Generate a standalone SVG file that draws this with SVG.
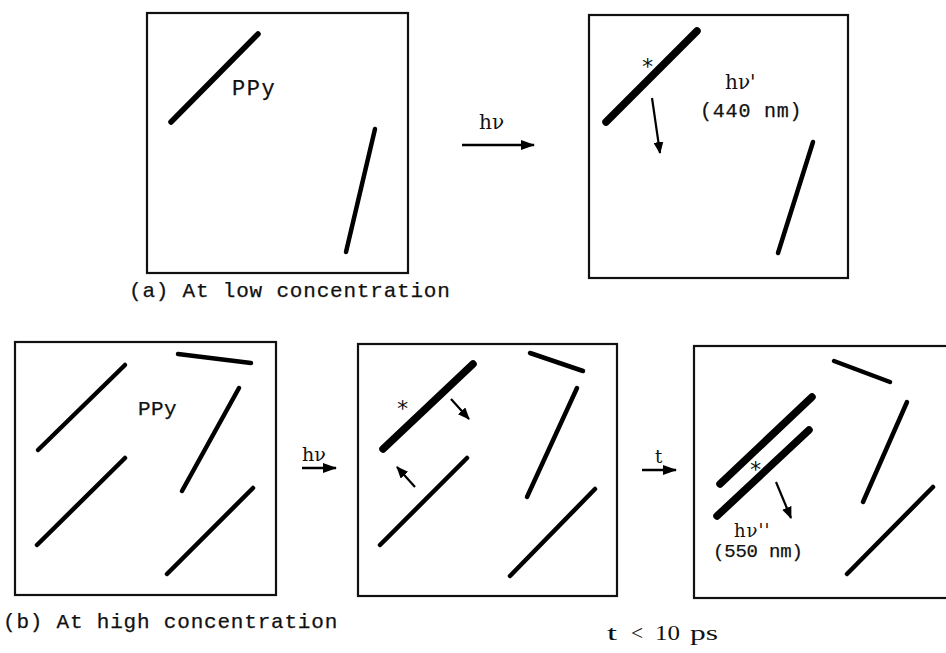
<svg xmlns="http://www.w3.org/2000/svg" width="946" height="653" viewBox="0 0 946 653">
<style>
.box{fill:none;stroke:#111;stroke-width:2.2}
.ch{stroke:#000;stroke-width:4.5;stroke-linecap:round;fill:none}
.ex{stroke:#000;stroke-width:7.5;stroke-linecap:round;fill:none}
.arr{stroke:#000;stroke-width:2.6;fill:none}
.sarr{stroke:#000;stroke-width:2.2;fill:none}
.mono{font-family:"Liberation Mono","DejaVu Sans Mono",monospace;fill:#111;stroke:#111;stroke-width:0.25}
.ast{font-family:"DejaVu Sans Mono","Liberation Mono",monospace;fill:#111;font-size:22px}
.ser{font-family:"DejaVu Serif","Liberation Serif",serif;fill:#111}
.cent{font-family:"Liberation Serif","DejaVu Serif",serif;fill:#111}
</style>
<defs>
<marker id="ah" markerUnits="userSpaceOnUse" markerWidth="14" markerHeight="10" refX="13" refY="5" orient="auto">
<path d="M0,0 L14,5 L0,10 Z" fill="#000"/>
</marker>
<marker id="sh" markerUnits="userSpaceOnUse" markerWidth="12" markerHeight="10" refX="11" refY="5" orient="auto">
<path d="M0,0 L12,5 L0,10 Z" fill="#000"/>
</marker>
</defs>
<rect width="946" height="653" fill="#fff"/>

<g id="panel-a-low">
<rect class="box" x="147" y="13" width="261" height="260"/>
<line class="ch" x1="171" y1="122" x2="258" y2="34" style="stroke-width:5.5"/>
<line class="ch" x1="375" y1="129" x2="346" y2="252"/>
<text class="mono" x="232" y="95" font-size="22" letter-spacing="1.5">PPy</text>
<text class="mono" x="129" y="297" font-size="21" letter-spacing="0.8">(a) At low concentration</text>
</g>

<g id="panel-a-excited">
<rect class="box" x="589" y="15" width="259" height="263"/>
<line class="ex" x1="606" y1="122" x2="697" y2="31"/>
<line class="ch" x1="813" y1="142" x2="778" y2="253"/>
<text class="ast" x="641" y="74">*</text>
<text class="ser" x="725" y="89" font-size="20">hν'</text>
<text class="mono" x="700" y="117" font-size="20" letter-spacing="0.8">(440 nm)</text>
</g>

<g id="panel-b-high">
<rect class="box" x="15" y="342" width="261" height="253"/>
<line class="ch" x1="38" y1="450" x2="125" y2="365"/>
<line class="ch" x1="37" y1="545" x2="125" y2="458"/>
<line class="ch" x1="182" y1="491" x2="239" y2="388"/>
<line class="ch" x1="167" y1="574" x2="253" y2="488"/>
<line class="ch" x1="178" y1="354" x2="251" y2="363"/>
<text class="mono" x="138" y="415" font-size="21" letter-spacing="0.4">PPy</text>
<text class="mono" x="3" y="628" font-size="21" letter-spacing="0.8">(b) At high concentration</text>
</g>

<g id="panel-b-excited">
<rect class="box" x="358" y="344" width="259" height="252"/>
<line class="ex" x1="383" y1="449" x2="473" y2="364"/>
<line class="ch" x1="380" y1="545" x2="467" y2="458"/>
<line class="ch" x1="527" y1="497" x2="577" y2="388"/>
<line class="ch" x1="510" y1="576" x2="595" y2="489"/>
<line class="ch" x1="530" y1="353" x2="583" y2="371"/>
<text class="ast" x="396" y="416">*</text>
</g>

<g id="panel-b-excimer">
<rect class="box" x="694" y="346" width="262" height="252"/>
<line class="ex" x1="720" y1="484" x2="812" y2="397"/>
<line class="ex" x1="717" y1="516" x2="809" y2="430"/>
<line class="ch" x1="834" y1="361" x2="890" y2="382"/>
<line class="ch" x1="863" y1="502" x2="907" y2="402"/>
<line class="ch" x1="847" y1="574" x2="933" y2="487"/>
<text class="ast" x="749" y="477">*</text>
<text class="ser" x="734" y="537" font-size="18" letter-spacing="1">hν''</text>
<text class="mono" x="713" y="557" font-size="19" letter-spacing="-0.2">(550 nm)</text>
</g>

<g id="labels">
<text class="ser" x="479" y="129" font-size="20">hν</text>
<text class="ser" x="302" y="461" font-size="19">hν</text>
<text class="ser" x="655" y="463" font-size="18">t</text>
<text class="cent" x="607" y="640" font-size="20" textLength="10" lengthAdjust="spacingAndGlyphs">t</text>
<text class="cent" x="631" y="640" font-size="20" textLength="12" lengthAdjust="spacingAndGlyphs">&lt;</text>
<text class="cent" x="655" y="640" font-size="20" textLength="25" lengthAdjust="spacingAndGlyphs">10</text>
<text class="cent" x="690" y="640" font-size="20" textLength="28" lengthAdjust="spacingAndGlyphs">ps</text>
</g>

<g id="connectors">
<line class="arr" x1="462" y1="145" x2="534" y2="145" marker-end="url(#ah)"/>
<line class="arr" x1="302" y1="468" x2="336" y2="468" marker-end="url(#ah)"/>
<line class="arr" x1="642" y1="470" x2="676" y2="470" marker-end="url(#ah)"/>
<line class="sarr" x1="652" y1="98" x2="660" y2="153" marker-end="url(#sh)"/>
<line class="sarr" x1="451" y1="399" x2="469" y2="419" marker-end="url(#sh)"/>
<line class="sarr" x1="415" y1="487" x2="397" y2="467" marker-end="url(#sh)"/>
<line class="sarr" x1="776" y1="482" x2="791" y2="518" marker-end="url(#sh)"/>
</g>
</svg>
